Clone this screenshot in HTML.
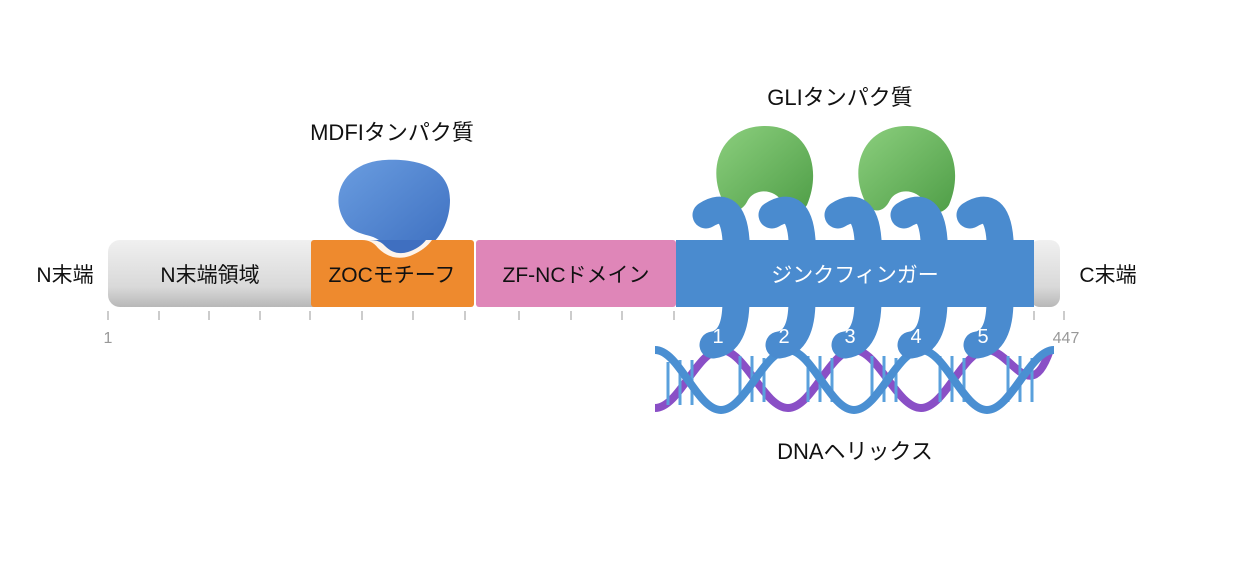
<!DOCTYPE html>
<html><head><meta charset="utf-8"><style>
html,body{margin:0;padding:0;background:#fff;}
svg{display:block;}
text{font-family:"Liberation Sans","Noto Sans CJK JP",sans-serif;}
</style></head><body>
<svg width="1239" height="564" viewBox="0 0 1239 564" xmlns="http://www.w3.org/2000/svg">
<defs>
<linearGradient id="gy" x1="0" y1="0" x2="0" y2="1"><stop offset="0" stop-color="#f0f0f0"/><stop offset="0.7" stop-color="#d9d9d9"/><stop offset="1" stop-color="#b8b8b8"/></linearGradient>
<linearGradient id="gg" x1="0" y1="0" x2="1" y2="1"><stop offset="0" stop-color="#8ccf7e"/><stop offset="1" stop-color="#4f9e47"/></linearGradient>
<linearGradient id="gb" x1="0" y1="0" x2="1" y2="1"><stop offset="0" stop-color="#6a9de0"/><stop offset="1" stop-color="#3d6fc0"/></linearGradient>
</defs>

<!-- MDFI blob -->
<path d="M345,222 C328,195 345,162 385,160 C425,158 450,172 450,200 C450,230 430,254 408,254 C390,254 385,240 370,236 C358,233 350,230 345,222 Z" fill="url(#gb)"/>

<!-- bar -->
<rect x="108" y="240" width="222" height="67" rx="12" fill="url(#gy)"/>
<rect x="311" y="240" width="163" height="67" rx="3" fill="#ee8a2e"/>
<path d="M362,240 Q372,240 378,248 Q392,262 410,256 Q425,250 432,240 Z" fill="#fff" opacity="0.9"/>
<path d="M370,240 Q380,240 385,246 Q395,256 408,252 Q420,248 426,240 Z" fill="#3f6fc0"/>
<rect x="476" y="240" width="200" height="67" rx="3" fill="#df86b8"/>
<rect x="1030" y="240" width="30" height="67" rx="10" fill="url(#gy)"/>
<rect x="676" y="240" width="358" height="67" fill="#4a8bcf"/>

<!-- ticks -->
<g stroke="#999" stroke-width="1">
<line x1="108" y1="311" x2="108" y2="320"/><line x1="159" y1="311" x2="159" y2="320"/><line x1="209" y1="311" x2="209" y2="320"/><line x1="260" y1="311" x2="260" y2="320"/><line x1="310" y1="311" x2="310" y2="320"/><line x1="362" y1="311" x2="362" y2="320"/><line x1="413" y1="311" x2="413" y2="320"/><line x1="465" y1="311" x2="465" y2="320"/><line x1="519" y1="311" x2="519" y2="320"/><line x1="571" y1="311" x2="571" y2="320"/><line x1="622" y1="311" x2="622" y2="320"/><line x1="674" y1="311" x2="674" y2="320"/><line x1="1034" y1="311" x2="1034" y2="320"/><line x1="1064" y1="311" x2="1064" y2="320"/>
</g>
<text x="108" y="343" font-size="16" fill="#999" text-anchor="middle">1</text>
<text x="1066" y="343" font-size="16" fill="#999" text-anchor="middle">447</text>

<!-- green proteins -->
<path d="M725,205 C705,170 720,126 765,126 C810,126 822,170 807,205 C800,216 788,214 783,203 C775,188 755,188 748,200 C742,213 731,213 725,205 Z" fill="url(#gg)"/>
<path d="M867,205 C847,170 862,126 907,126 C952,126 964,170 949,205 C942,216 930,214 925,203 C917,188 897,188 890,200 C884,213 873,213 867,205 Z" fill="url(#gg)"/>

<!-- DNA -->
<g fill="none">
<path d="M655,408 C679,408 697,350 721,350 S764,408 788,408 S830,350 854,350 S897,408 921,408 S963,350 987,350 S1030,408 1050,350" stroke="#8a4fc6" stroke-width="8"/>
<g stroke="#5aa0dc" stroke-width="3">
<line x1="668" y1="362" x2="668" y2="405"/><line x1="680" y1="360" x2="680" y2="405"/><line x1="692" y1="360" x2="692" y2="405"/><line x1="740" y1="356" x2="740" y2="402"/><line x1="752" y1="356" x2="752" y2="402"/><line x1="764" y1="358" x2="764" y2="402"/><line x1="808" y1="356" x2="808" y2="402"/><line x1="820" y1="356" x2="820" y2="402"/><line x1="832" y1="358" x2="832" y2="402"/><line x1="872" y1="356" x2="872" y2="402"/><line x1="884" y1="356" x2="884" y2="402"/><line x1="896" y1="358" x2="896" y2="402"/><line x1="940" y1="356" x2="940" y2="402"/><line x1="952" y1="356" x2="952" y2="402"/><line x1="964" y1="358" x2="964" y2="402"/><line x1="1008" y1="356" x2="1008" y2="402"/><line x1="1020" y1="356" x2="1020" y2="402"/><line x1="1032" y1="358" x2="1032" y2="402"/>
</g>
<path d="M655,350 C679,350 697,410 721,410 S764,350 788,350 S830,410 854,410 S897,350 921,350 S963,410 987,410 S1030,350 1054,350" stroke="#4a8fd2" stroke-width="8"/>
</g>

<!-- fingers -->
<g fill="none" stroke="#4a8bcf" stroke-width="27" stroke-linecap="round">
<path d="M706,215 Q733,198 736,240 L736,300 Q736,342 713,345"/>
<path d="M772,215 Q799,198 802,240 L802,300 Q802,342 779,345"/>
<path d="M838,215 Q865,198 868,240 L868,300 Q868,342 845,345"/>
<path d="M904,215 Q931,198 934,240 L934,300 Q934,342 911,345"/>
<path d="M970,215 Q997,198 1000,240 L1000,300 Q1000,342 977,345"/>
</g>

<!-- labels -->
<text x="65" y="282" font-size="21" text-anchor="middle" fill="#111">N末端</text>
<text x="210" y="282" font-size="21" text-anchor="middle" fill="#111">N末端領域</text>
<text x="392" y="282" font-size="21" text-anchor="middle" fill="#111">ZOCモチーフ</text>
<text x="576" y="282" font-size="21" text-anchor="middle" fill="#111">ZF-NCドメイン</text>
<text x="855" y="282" font-size="21" text-anchor="middle" fill="#fff">ジンクフィンガー</text>
<text x="1108" y="282" font-size="21" text-anchor="middle" fill="#111">C末端</text>
<text x="392" y="140" font-size="22" text-anchor="middle" fill="#111">MDFIタンパク質</text>
<text x="840" y="105" font-size="22" text-anchor="middle" fill="#111">GLIタンパク質</text>
<text x="855" y="459" font-size="22" text-anchor="middle" fill="#111">DNAヘリックス</text>
<g font-size="20" fill="#fff" text-anchor="middle">
<text x="718" y="343">1</text><text x="784" y="343">2</text><text x="850" y="343">3</text><text x="916" y="343">4</text><text x="983" y="343">5</text>
</g>
</svg>
</body></html>
